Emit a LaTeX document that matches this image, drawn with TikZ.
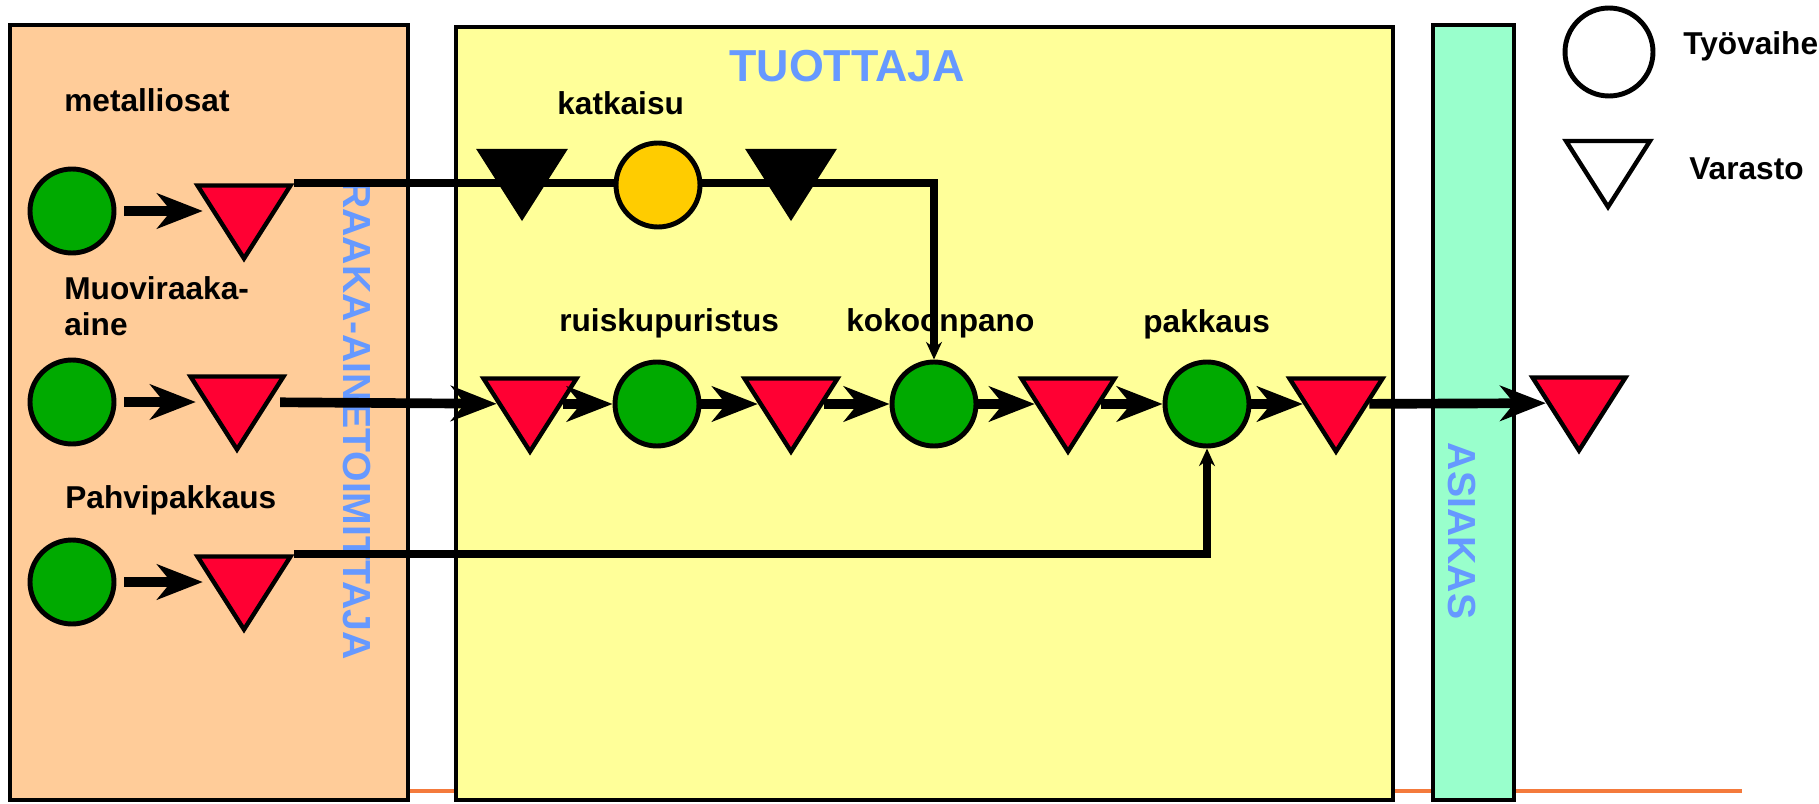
\documentclass[tikz,border=0pt]{standalone}
\usepackage{fontspec}
\setmainfont{Liberation Sans}
\usetikzlibrary{arrows.meta}
\usetikzlibrary{shapes.geometric}

\definecolor{supplier}{HTML}{FFCC99}
\definecolor{producer}{HTML}{FFFF99}
\definecolor{customer}{HTML}{99FFCC}
\definecolor{phase}{HTML}{00AA00}
\definecolor{stock}{HTML}{FF0033}
\definecolor{cutting}{HTML}{FFCC00}
\definecolor{titleblue}{HTML}{6699FF}
\definecolor{rule}{HTML}{F47A3C}

\tikzset{
  box/.style={draw=black, line width=2.8pt},
  tyo/.style={circle, draw, line width=2.8pt, fill=phase, minimum size=1.68cm, inner sep=0pt},
  varasto/.style={isosceles triangle, isosceles triangle stretches, shape border rotate=-90, draw, line width=2.5pt, fill=stock, minimum width=1.86cm, minimum height=1.46cm, inner sep=0pt},
  musta/.style={varasto, fill=black, minimum width=1.68cm, minimum height=1.32cm},
  flow/.style={line width=5.5pt, -{Stealth[length=26pt, width=20pt, inset=8pt]}},
  short/.style={shorten <=0.16cm, shorten >=0.16cm},
  link/.style={line width=4.4pt, -{Stealth[length=10pt, width=9pt]}},
  lbl/.style={font=\bfseries\fontsize{18}{20.5}\selectfont, inner sep=0pt},
  otsikko/.style={font=\bfseries\fontsize{22.3}{26}\selectfont, text=titleblue, inner sep=0pt},
}

\begin{document}
\begin{tikzpicture}[x=0.02cm, y=-0.02cm]
  \useasboundingbox (0,0) rectangle (1819,804);

  % taustat
  \draw[line width=1.8pt, rule] (410,791) -- (1742,791);
  \filldraw[box, fill=supplier] (10,25) rectangle (408,800);
  \filldraw[box, fill=producer] (456,27) rectangle (1393,800);
  \filldraw[box, fill=customer] (1433,25) rectangle (1514,800);

  \node[otsikko, rotate=-90] (raaka) at (357,420) {RAAKA-AINETOIMITTAJA};
  \node[otsikko, anchor=base west, font=\bfseries\fontsize{25.5}{28}\selectfont] (tuottaja) at (729,82) {TUOTTAJA};
  \node[otsikko, rotate=-90] (asiakas) at (1462,531) {ASIAKAS};

  % tekstit
  \node[lbl, anchor=base west] (lmetal) at (64,112) {metalliosat};
  \node[lbl, anchor=north west, align=left] (lmuovi) at (64,276) {Muoviraaka-\\aine};
  \node[lbl, anchor=base west] (lpahvi) at (65,508) {Pahvipakkaus};
  \node[lbl, anchor=base west] (lkatk) at (557,115) {katkaisu};
  \node[lbl, anchor=base west] (lruisku) at (559,332) {ruiskupuristus};
  \node[lbl, anchor=base west] (lkokoon) at (846,332) {kokoonpano};
  \node[lbl, anchor=base west] (lpakk) at (1143,333) {pakkaus};
  \node[lbl, anchor=base west] (ltyo) at (1683,55) {Työvaihe};
  \node[lbl, anchor=base west] (lvar) at (1689,180) {Varasto};

  % raaka-aineet
  \node[tyo] (c1) at (72,211) {};
  \node[tyo] (c2) at (72,402) {};
  \node[tyo] (c6) at (72,582) {};
  \node[varasto] (t1) at (244,211) {};
  \node[varasto] (t2) at (237,402) {};
  \node[varasto] (t8) at (244,582) {};

  % tuotanto
  \node[varasto] (t3) at (530,404) {};
  \node[tyo] (c3) at (657,404) {};
  \node[varasto] (t4) at (791,404) {};
  \node[tyo] (c4) at (934,404) {};
  \node[varasto] (t5) at (1068,404) {};
  \node[tyo] (c5) at (1207,404) {};
  \node[varasto] (t6) at (1336,404) {};
  \node[varasto] (t7) at (1579,403) {};

  \draw[flow, short] (c1) -- (t1);
  \draw[flow, short] (c2) -- (t2);
  \draw[flow, short] (c6) -- (t8);
  \draw[flow, shorten <=0.2cm] (t2) -- (t3);
  \draw[flow] (t3) -- (c3);
  \draw[flow] (c3) -- (t4);
  \draw[flow] (t4) -- (c4);
  \draw[flow] (c4) -- (t5);
  \draw[flow] (t5) -- (c5);
  \draw[flow] (c5) -- (t6);
  \draw[flow] (t6) -- (t7);

  \draw[link] (t1.left corner) -| (c4.north);
  \draw[link] (t8.left corner) -| (c5.south);

  % katkaisu
  \node[musta] (k1) at (522,174) {};
  \node[tyo, fill=cutting] (c7) at (658,185) {};
  \node[musta] (k2) at (791,174) {};

  % selitteet
  \node[tyo, fill=white, minimum size=1.76cm] (s1) at (1609,52) {};
  \node[musta, fill=white] (s2) at (1608,164) {};
\end{tikzpicture}
\end{document}
